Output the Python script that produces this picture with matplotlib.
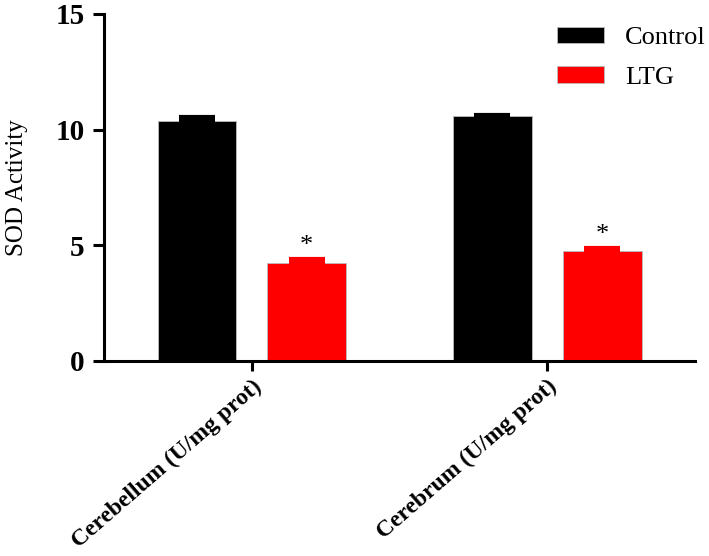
import numpy as np
import matplotlib.pyplot as plt

plt.rcParams['font.family'] = ['Liberation Serif', 'DejaVu Serif']

# data
regions = ['Cerebellum (U/mg prot)', 'Cerebrum (U/mg prot)']
control = [10.36, 10.57]
control_sem = [0.20, 0.07]
ltg = [4.21, 4.74]
ltg_sem = [0.20, 0.13]
groups = ['Control', 'LTG']
colors = ['black', '#ff0000']

x = np.arange(len(regions))
width = 0.267
offset = 0.186

fig = plt.figure(figsize=(7.09, 5.56), dpi=100)
ax = fig.add_axes([0.147, 0.351, 0.833, 0.624])

for vals, sem, sign, label, c in [(control, control_sem, -1, groups[0], colors[0]),
                                  (ltg, ltg_sem, 1, groups[1], colors[1])]:
    pos = x + sign * offset
    ax.bar(pos, vals, width, color=c, label=label, edgecolor='#bbbbbb', linewidth=0.6)
    ax.errorbar(pos, vals, yerr=[np.zeros(len(vals)), sem], fmt='none',
                ecolor=c, elinewidth=2, capsize=13, capthick=3)

# significance markers
for i in range(len(regions)):
    ax.text(x[i] + offset, ltg[i] + ltg_sem[i] + 0.1, '*', ha='center',
            va='bottom', fontsize=19)

ax.set_xlim(-0.5, 1.5)
ax.set_ylim(0, 15)
ax.set_yticks([0, 5, 10, 15])
ax.set_xticks(x)
ax.set_xticklabels(regions, rotation=41, ha='right', rotation_mode='anchor',
                   fontsize=17, fontweight='bold')
ax.tick_params(axis='y', labelsize=21, width=2.2, length=8, direction='out', pad=6)
ax.tick_params(axis='x', width=2.2, length=7, direction='out', pad=4)
for lab in ax.get_yticklabels():
    lab.set_fontweight('bold')
ax.set_ylabel('SOD Activity', fontsize=18, labelpad=20)

ax.spines['top'].set_visible(False)
ax.spines['right'].set_visible(False)
ax.spines['left'].set_linewidth(2.2)
ax.spines['bottom'].set_linewidth(2.2)

ax.legend(loc='upper left', bbox_to_anchor=(0.786, 0.952),
          bbox_transform=fig.transFigure, frameon=False,
          fontsize=19, handlelength=1.78, handleheight=0.6, labelspacing=0.63,
          handletextpad=0.8, borderpad=0, borderaxespad=0)

fig.savefig('out.png', dpi=100)
